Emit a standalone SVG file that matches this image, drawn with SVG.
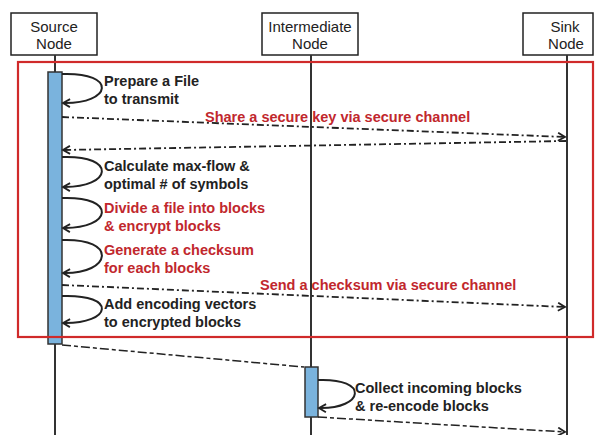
<svg xmlns="http://www.w3.org/2000/svg" width="595" height="435" viewBox="0 0 595 435">
<style>
.box{fill:#fff;stroke:#222;stroke-width:1.5}
.nl{font-family:"Liberation Sans",Arial,sans-serif;font-size:15px;fill:#222;text-anchor:middle}
.life{stroke:#333;stroke-width:2}
.act{fill:#7ab3dd;stroke:#333;stroke-width:1.5}
.lbl{font-family:"Liberation Sans",Arial,sans-serif;font-size:14.5px;font-weight:bold;fill:#222}
.red{fill:#c1272d}
.loop{fill:none;stroke:#222;stroke-width:2;marker-end:url(#ah)}
.msg{fill:none;stroke:#222;stroke-width:1.8;stroke-dasharray:7 3 2 3;marker-end:url(#ah)}
.dash{fill:none;stroke:#222;stroke-width:1.5;stroke-dasharray:9 3 4 3}
</style>
<defs>
<marker id="ah" markerWidth="10" markerHeight="10" refX="8" refY="5" orient="auto" markerUnits="userSpaceOnUse">
<path d="M1,1 L8,5 L1,9" fill="none" stroke="#222" stroke-width="1.8"/>
</marker>
</defs>
<rect width="595" height="435" fill="#fff"/>
<g id="source-node">
<rect class="box" x="11" y="13" width="86" height="42"/>
<text class="nl" x="54" y="32">Source</text>
<text class="nl" x="54" y="49">Node</text>
<line class="life" x1="55" y1="55" x2="55" y2="435"/>
<rect class="act" x="48" y="72" width="14" height="272"/>
</g>
<g id="intermediate-node">
<rect class="box" x="262" y="13" width="96" height="42"/>
<text class="nl" x="310" y="32">Intermediate</text>
<text class="nl" x="310" y="49">Node</text>
<line class="life" x1="311" y1="55" x2="311" y2="435"/>
<rect class="act" x="305" y="367" width="13" height="50"/>
</g>
<g id="sink-node">
<rect class="box" x="523" y="13" width="70" height="42"/>
<text class="nl" x="565" y="32">Sink</text>
<text class="nl" x="566" y="49">Node</text>
<line class="life" x1="567" y1="55" x2="567" y2="435"/>
</g>
<rect id="secure-phase" x="18" y="62" width="575" height="275" fill="none" stroke="#d02a2a" stroke-width="2.2"/>
<g id="connectors">
<path class="loop" d="M62,74 C118,72 112,104 63,103"/>
<path class="msg" d="M62,117 L565,137"/>
<path class="msg" d="M566,141 L63,150"/>
<path class="loop" d="M62,157 C118,155 112,188 63,187"/>
<path class="loop" d="M62,198 C118,196 112,229 63,228"/>
<path class="loop" d="M62,240 C118,238 112,274 63,273"/>
<path class="msg" d="M62,285 L565,307"/>
<path class="loop" d="M62,296 C118,294 112,324 63,323"/>
<path class="dash" d="M62,345 L304,367"/>
<path class="loop" d="M318,380 C370,378 364,409 319,408"/>
<path class="dash" d="M318,417 L565,432" style="marker-end:url(#ah)"/>
</g>
<g id="labels">
<text class="lbl" x="104" y="86">Prepare a File</text>
<text class="lbl" x="104" y="104">to transmit</text>
<text class="lbl red" x="205" y="122">Share a secure key via secure channel</text>
<text class="lbl" x="104" y="171">Calculate max-flow &amp;</text>
<text class="lbl" x="104" y="189">optimal # of symbols</text>
<text class="lbl red" x="104" y="213">Divide a file into blocks</text>
<text class="lbl red" x="104" y="231">&amp; encrypt blocks</text>
<text class="lbl red" x="104" y="255">Generate a checksum</text>
<text class="lbl red" x="104" y="273">for each blocks</text>
<text class="lbl red" x="260" y="290">Send a checksum via secure channel</text>
<text class="lbl" x="104" y="309">Add encoding vectors</text>
<text class="lbl" x="104" y="327">to encrypted blocks</text>
<text class="lbl" x="355" y="393">Collect incoming blocks</text>
<text class="lbl" x="355" y="411">&amp; re-encode blocks</text>
</g>
</svg>
